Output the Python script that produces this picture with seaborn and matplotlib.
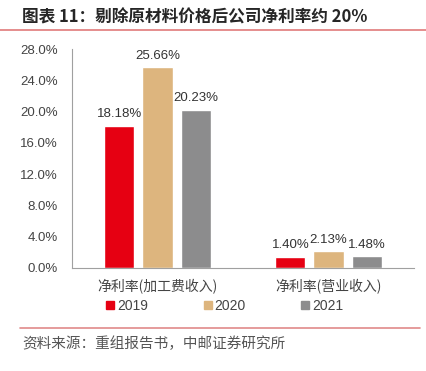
import matplotlib
matplotlib.use("Agg")
import matplotlib.pyplot as plt
import seaborn as sns
import pandas as pd
from matplotlib.lines import Line2D
from matplotlib.ticker import FixedLocator

categories = ["净利率(加工费收入)", "净利率(营业收入)"]
years = ["2019", "2020", "2021"]
v2019 = [18.18, 1.40]
v2020 = [25.66, 2.13]
v2021 = [20.23, 1.48]
yticks = [0, 4, 8, 12, 16, 20, 24, 28]
colors = ["#E60012", "#DDB57E", "#8C8C8D"]

rows = []
for yr, vals in zip(years, [v2019, v2020, v2021]):
    for c, v in zip(categories, vals):
        rows.append({"cat": c, "year": yr, "val": v})
df = pd.DataFrame(rows)

sns.set_style("white")
plt.rcParams["font.family"] = ["Liberation Sans", "Noto Sans CJK SC", "DejaVu Sans"]

fig = plt.figure(figsize=(4.27, 3.71), dpi=100)
ax = fig.add_axes([72/427, 1-268/371, (414-72)/427, (268-49)/371])

sns.barplot(data=df, x="cat", y="val", hue="year", palette=colors, ax=ax,
            width=0.667, gap=0.21, legend=False, saturation=1)

for cont in ax.containers:
    ax.bar_label(cont, labels=[f"{b.get_height():.2f}%" for b in cont],
                 padding=4, fontsize=9.5, color="#333333")

ax.set_ylim(0, 28)
ax.set_xlim(-0.5, 1.5)
ax.set_yticks(yticks)
ax.set_yticklabels([f"{t:.1f}%" for t in yticks], fontsize=9.5, color="#444444")
ax.set_xticks([0, 1])
ax.set_xticklabels(categories, fontsize=10, color="#444444",
                   family=["Noto Sans CJK SC", "DejaVu Sans"])
ax.xaxis.set_minor_locator(FixedLocator([-0.5, 0.5, 1.5]))
ax.tick_params(axis="x", which="major", length=0, pad=8)
ax.tick_params(axis="x", which="minor", length=4, color="#A0A0A0", width=0.8, direction="out")
ax.tick_params(axis="y", length=4, color="#A0A0A0", width=0.8, direction="out", pad=6)
ax.set_xlabel("")
ax.set_ylabel("")
for s in ["top", "right"]:
    ax.spines[s].set_visible(False)
for s in ["left", "bottom"]:
    ax.spines[s].set_color("#A0A0A0")
    ax.spines[s].set_linewidth(0.8)

handles = [Line2D([], [], marker="s", linestyle="", color=c, markersize=6) for c in colors]
fig.legend(handles, years, loc="center", bbox_to_anchor=(224/427, 1-306/371), ncol=3,
           frameon=False, fontsize=10, handletextpad=0.1, columnspacing=3.9,
           handlelength=0.8, labelcolor="#444444")

fig.text(22/427, 1-17/371, "图表 11：剔除原材料价格后公司净利率约 20%", fontsize=12,
         fontweight="bold", va="center", ha="left", family=["Noto Sans CJK SC", "DejaVu Sans"])
fig.add_artist(Line2D([0, 1], [1-30/371, 1-30/371], color="#E07A7A", lw=1.2))
fig.add_artist(Line2D([20/427, 420/427], [1-328/371, 1-328/371], color="#E08A8A", lw=1.2))
fig.text(22/427, 1-344/371, "资料来源：重组报告书，中邮证券研究所", fontsize=10.5, color="#555555",
         va="center", ha="left", family=["Noto Sans CJK SC", "DejaVu Sans"])

fig.savefig("out.png", dpi=100)
